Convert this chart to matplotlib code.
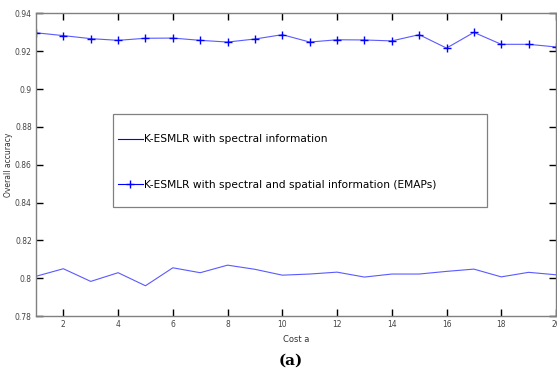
import matplotlib.pyplot as plt
from matplotlib.patches import Rectangle

# Kosten-Parameter a und Genauigkeiten der beiden Varianten
cost = list(range(1, 21))
acc_spectral = [0.8010, 0.8050, 0.7983, 0.8029, 0.7960, 0.8055, 0.8029, 0.8069, 0.8047, 0.8016,
                0.8022, 0.8032, 0.8006, 0.8022, 0.8022, 0.8036, 0.8048, 0.8007, 0.8031, 0.8018]
acc_emaps = [0.9298, 0.9283, 0.9267, 0.9258, 0.9269, 0.9270, 0.9258, 0.9249, 0.9265, 0.9288,
             0.9249, 0.9261, 0.9260, 0.9255, 0.9288, 0.9217, 0.9300, 0.9237, 0.9237, 0.9223]
yticks = [0.78, 0.80, 0.82, 0.84, 0.86, 0.88, 0.90, 0.92, 0.94]
ytick_labels = ['0.78', '0.8', '0.82', '0.84', '0.86', '0.88', '0.9', '0.92', '0.94']
xticks = list(range(2, 21, 2))

fig = plt.figure(figsize=(5.57, 3.78), dpi=100)
ax = fig.add_axes([0.0646, 0.164, 0.9336, 0.8003])

ax.plot(cost, acc_spectral, color='#5a5aff', lw=0.8, label='K-ESMLR with spectral information')
ax.plot(cost, acc_emaps, color='#5a5aff', lw=0.8, marker='+', markersize=6, mew=1.0,
        mec='blue', label='K-ESMLR with spectral and spatial information (EMAPs)')

ax.set_xlim(1, 20)
ax.set_ylim(0.78, 0.94)
ax.set_yticks(yticks)
ax.set_yticklabels(ytick_labels)
ax.set_xticks(xticks)
ax.tick_params(direction='in', length=5, width=1, top=True, right=True,
               labelsize=5.5, labelcolor='#444444', pad=3)
for s in ax.spines.values():
    s.set_color('#808080')
    s.set_linewidth(1)

ax.set_xlabel('Cost a', fontsize=6, color='#333333', labelpad=4)
ax.set_ylabel('Overall accuracy', fontsize=5.5, color='#333333')
ax.yaxis.set_label_coords(-0.045, 0.5)

# Legendenrahmen wie im Original (grosser Kasten)
box = Rectangle((0.148, 0.36), 0.719, 0.308, transform=ax.transAxes,
                facecolor='white', edgecolor='#808080', lw=0.9, zorder=3)
ax.add_patch(box)
leg = ax.legend(loc='upper left', bbox_to_anchor=(0.158, 0.600), frameon=False,
                fontsize=7.7, borderpad=0, labelspacing=3.3, handlelength=2.3,
                handletextpad=0.1, borderaxespad=0)
for h in leg.legend_handles:
    h.set_color('blue')
leg.set_zorder(4)

fig.text(0.522, 0.047, '(a)', ha='center', va='center', fontsize=11,
         fontweight='bold', family='DejaVu Serif')

fig.savefig('out.png', dpi=100)
